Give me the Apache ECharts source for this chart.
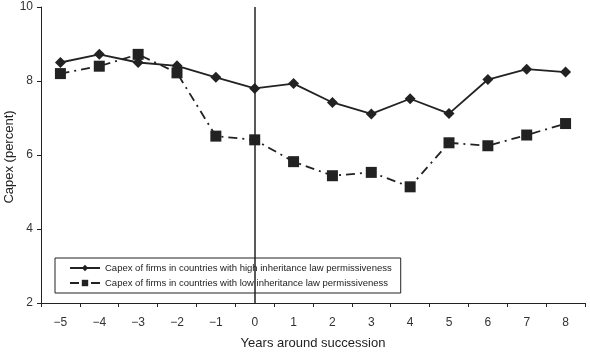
<!DOCTYPE html>
<html><head><meta charset="utf-8">
<script src="https://cdn.jsdelivr.net/npm/echarts@6/dist/echarts.min.js"></script>
<style>html,body{margin:0;padding:0;background:#fff}#c{width:590px;height:352px}</style>
</head><body><div id="c"></div>
<script>
var years = ['−5','−4','−3','−2','−1','0','1','2','3','4','5','6','7','8'];
var highPerm = [8.5, 8.72, 8.5, 8.41, 8.1, 7.8, 7.93, 7.42, 7.11, 7.52, 7.12, 8.04, 8.32, 8.24];
var lowPerm = [8.2, 8.4, 8.72, 8.22, 6.51, 6.41, 5.82, 5.44, 5.53, 5.14, 6.33, 6.25, 6.54, 6.85];
var yTicks = [2, 4, 6, 8, 10];
var highName = 'Capex of firms in countries with high inheritance law permissiveness';
var lowName = 'Capex of firms in countries with low inheritance law permissiveness';
var yName = 'Capex (percent)';

var ink = '#222';
var chart = echarts.init(document.getElementById('c'), null, {renderer:'canvas'});
chart.setOption({
  animation: false,
  textStyle: {fontFamily: 'Liberation Sans, Arial, sans-serif'},
  grid: {left: 41, right: 5, top: 7, bottom: 49, containLabel: false, outerBoundsMode: 'none'},
  graphic: [{
    type: 'text', x: 9, y: 157, rotation: Math.PI / 2,
    style: {text: yName, fontSize: 13, fill: ink, align: 'center', verticalAlign: 'middle',
            fontFamily: 'Liberation Sans, Arial, sans-serif'},
    originX: 0, originY: 0
  }],
  legend: {
    left: 55, top: 258, orient: 'vertical',
    borderColor: ink, borderWidth: 1, padding: [5, 9, 5, 14],
    itemWidth: 30, itemHeight: 8, itemGap: 5,
    textStyle: {fontSize: 9.5, color: ink},
    data: [highName, lowName]
  },
  xAxis: {
    type: 'category', data: years, boundaryGap: true,
    name: 'Years around succession', nameLocation: 'middle', nameGap: 34,
    nameTextStyle: {fontSize: 13, color: ink},
    axisLine: {lineStyle: {color: ink, width: 1}},
    axisTick: {show: true, length: 4, lineStyle: {color: ink}},
    axisLabel: {fontSize: 12, color: '#333', margin: 14}
  },
  yAxis: {
    type: 'value', min: yTicks[0], max: yTicks[yTicks.length-1], interval: 2,
    axisLine: {show: true, lineStyle: {color: ink, width: 1}},
    axisTick: {show: true, length: 4, lineStyle: {color: ink}},
    axisLabel: {fontSize: 12, color: '#333', margin: 8},
    splitLine: {show: false}
  },
  series: [
    {
      name: highName, type: 'line', data: highPerm,
      symbol: 'diamond', symbolSize: 11,
      lineStyle: {color: ink, width: 1.8},
      itemStyle: {color: ink},
      markLine: {
        silent: true, symbol: 'none', label: {show: false},
        lineStyle: {color: ink, width: 1.5, type: 'solid'},
        data: [{xAxis: '0'}]
      }
    },
    {
      name: lowName, type: 'line', data: lowPerm,
      symbol: 'rect', symbolSize: 11,
      lineStyle: {color: ink, width: 1.8, type: [9, 5, 2, 5]},
      itemStyle: {color: ink}
    }
  ]
});
</script></body></html>
